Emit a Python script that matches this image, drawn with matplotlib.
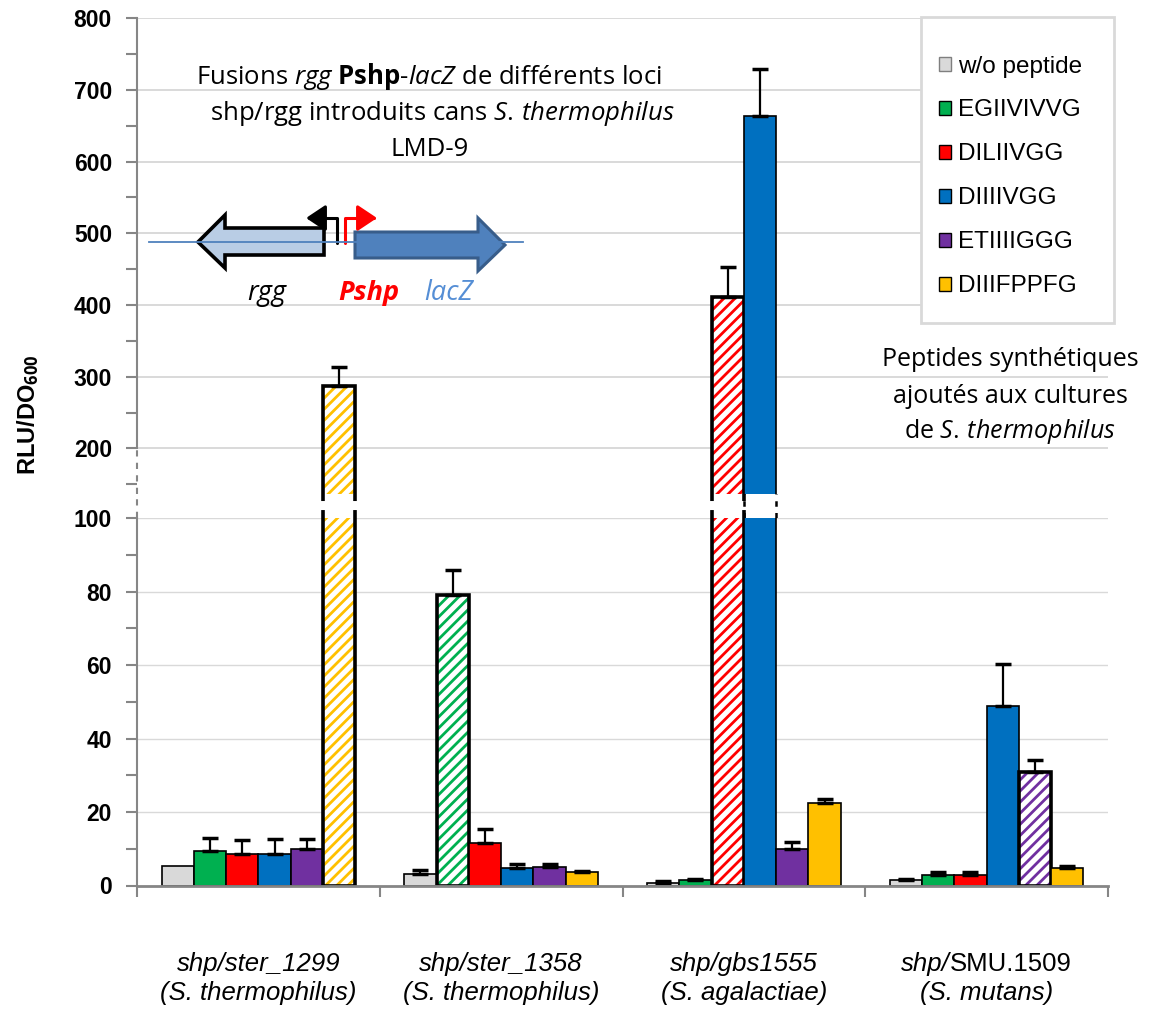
import matplotlib
matplotlib.use('Agg')
import matplotlib.pyplot as plt
import numpy as np
from matplotlib.patches import Patch, Rectangle, Polygon, FancyArrowPatch
from matplotlib.path import Path
from matplotlib.lines import Line2D
from matplotlib.offsetbox import TextArea, HPacker, AnnotationBbox

plt.rcParams['font.family'] = ['Liberation Sans', 'DejaVu Sans']
plt.rcParams['mathtext.fontset'] = 'custom'
plt.rcParams['mathtext.rm'] = 'Open Sans'
plt.rcParams['mathtext.it'] = 'Open Sans:italic'
plt.rcParams['mathtext.bf'] = 'Open Sans:bold'
plt.rcParams['hatch.linewidth'] = 2.0

CAL = 'Open Sans'      # stands in for Calibri
LBL_SIZE = 18.5
TITLE_SIZE = 18.5
TXT_SIZE = 18

# ---- data ----
loci = [[('shp/ster_1299', 'italic')],
        [('shp/ster_1358', 'italic')],
        [('shp/gbs1555', 'italic')],
        [('shp/', 'italic'), ('SMU.1509', 'normal')]]
species = ['(S. thermophilus)', '(S. thermophilus)', '(S. agalactiae)', '(S. mutans)']
peptides = ['w/o peptide', 'EGIIVIVVG', 'DILIIVGG', 'DIIIIVGG', 'ETIIIIGGG', 'DIIIFPPFG']
colors = ['#d9d9d9', '#00b050', '#ff0000', '#0070c0', '#7030a0', '#ffc000']

# one list per peptide, values per locus
wo_pep    = [5.2, 3.2, 0.8, 1.6]
egiivivvg = [9.3, 79.2, 1.6, 2.9]
diliivgg  = [8.6, 11.7, 411, 2.9]
diiiivgg  = [8.6, 4.7, 664, 49.0]
etiiiiggg = [10.0, 5.1, 10.0, 31.0]
diiifppfg = [287, 3.7, 22.4, 4.8]

wo_err        = [0, 1.0, 0.45, 0.2]
egiivivvg_err = [3.6, 6.8, 0.2, 0.9]
diliivgg_err  = [3.7, 3.7, 42, 0.9]
diiiivgg_err  = [4.1, 1.2, 65, 11.4]
etiiiiggg_err = [2.6, 0.8, 1.8, 3.1]
diiifppfg_err = [27, 0.3, 1.2, 0.6]

# cognate peptide of each locus (drawn hatched)
hatched = [5, 1, 2, 4]

series = [wo_pep, egiivivvg, diliivgg, diiiivgg, etiiiiggg, diiifppfg]
errors = [wo_err, egiivivvg_err, diliivgg_err, diiiivgg_err, etiiiiggg_err, diiifppfg_err]

# ---- layout ----
W, H = 1155, 1009
def fp(x, y):
    return (x / W, 1 - y / H)

fig = plt.figure(figsize=(W / 100, H / 100), dpi=100)
L, R = 137 / W, 1108 / W
TOP_LO = 136.3
ax_top = fig.add_axes([L, 1 - 494 / H, R - L, (494 - 18.3) / H])
ax_gap = fig.add_axes([L, 1 - 518.3 / H, R - L, (518.3 - 494) / H])
ax_bot = fig.add_axes([L, 1 - 885.5 / H, R - L, (885.5 - 518.3) / H])

x = np.arange(len(species))
w = 0.133
AXC = '#868686'

for ax in (ax_top, ax_bot):
    ax.set_xlim(-0.5, 3.5)
    ax.set_axisbelow(True)
    for i, (vals, err, col) in enumerate(zip(series, errors, colors)):
        xs = x + (i - 2.5) * w
        for j in range(len(x)):
            if hatched[j] == i:
                ax.bar(xs[j], vals[j], w, color='white', edgecolor=col, hatch='///', lw=0)
                ax.bar(xs[j], vals[j], w, fill=False, edgecolor='black', lw=2.6)
            else:
                ax.bar(xs[j], vals[j], w, color=col, edgecolor='black', lw=1.2)
            if err[j] > 0:
                ax.errorbar(xs[j], vals[j], yerr=[[0], [err[j]]], fmt='none', ecolor='black',
                            elinewidth=1.6, capsize=5.5, capthick=2.5)
    for s in ('top', 'right'):
        ax.spines[s].set_visible(False)
    ax.spines['left'].set_color(AXC)
    ax.spines['left'].set_linewidth(1.5)
    ax.tick_params(axis='y', which='both', direction='out', length=8, width=1.5,
                   color=AXC, labelsize=16.5, pad=10)

# upper panel
ax_top.set_ylim(TOP_LO, 800)
ax_top.set_yticks(range(200, 801, 100))
ax_top.set_yticks(range(150, 800, 100), minor=True)
ax_top.yaxis.grid(True, which='major', color='#d9d9d9', lw=1.4)
ax_top.spines['bottom'].set_visible(False)
ax_top.tick_params(axis='x', which='both', bottom=False, labelbottom=False)
ax_top.spines['left'].set_bounds(200, 800)
ax_top.plot([-0.5, -0.5], [TOP_LO, 200], color=AXC, lw=1.5, ls=(0, (3, 3)), clip_on=False)

# lower panel
ax_bot.set_ylim(0, 100)
ax_bot.set_yticks(range(0, 101, 20))
ax_bot.set_yticks(range(10, 100, 20), minor=True)
ax_bot.yaxis.grid(True, which='major', color='#d9d9d9', lw=1.0)
ax_bot.spines['bottom'].set_color(AXC)
ax_bot.spines['bottom'].set_linewidth(2)
ax_bot.set_xticks(np.arange(-0.5, 3.6, 1.0))
ax_bot.tick_params(axis='x', direction='out', length=8, width=1.5, color=AXC, labelbottom=False)

for ax in (ax_top, ax_bot):
    plt.setp(ax.get_yticklabels(), fontweight='bold')

# break band: dashed outlines of the bars that cross it
ax_gap.set_xlim(-0.5, 3.5)
ax_gap.set_ylim(0, 1)
ax_gap.axis('off')
ax_gap.plot([-0.5, -0.5], [0, 1], color=AXC, lw=1.5, ls=(0, (3, 3)), clip_on=False)
for i, vals in enumerate(series):
    xs = x + (i - 2.5) * w
    for j in range(len(x)):
        if vals[j] > TOP_LO:
            lw = 2.6 if hatched[j] == i else 1.8
            for xe in (xs[j] - w / 2, xs[j] + w / 2):
                ax_gap.plot([xe, xe], [0, 1], color='black', lw=lw, ls=(0, (2.2, 2.5)))

# category labels
xt = ax_bot.get_xaxis_transform()
for j in range(len(x)):
    parts = [TextArea(s, textprops=dict(style=st, size=LBL_SIZE)) for s, st in loci[j]]
    box = HPacker(children=parts, pad=0, sep=0, align='baseline')
    fig.add_artist(AnnotationBbox(box, (x[j], -0.213), xycoords=xt, frameon=False,
                                  box_alignment=(0.5, 0.5), annotation_clip=False, pad=0))
    ax_bot.text(x[j], -0.292, species[j], transform=xt, ha='center', va='center',
                style='italic', size=LBL_SIZE, clip_on=False)

fig.text(28 / W, 1 - 415 / H, r'RLU/DO$_{\mathbf{600}}$', rotation=90, fontweight='bold',
         fontsize=17, ha='center', va='center')

# annotations
fig.text(*fp(429, 77), r'Fusions $\mathit{rgg}$ $\mathbf{Pshp}$-$\mathit{lacZ}$ de différents loci',
         family=CAL, fontsize=TITLE_SIZE, ha='center', va='center')
fig.text(*fp(442, 114), r'shp/rgg introduits cans $\mathit{S.\,thermophilus}$',
         family=CAL, fontsize=TITLE_SIZE, ha='center', va='center')
fig.text(*fp(430, 150), 'LMD-9', family=CAL, fontsize=TITLE_SIZE, ha='center', va='center')

fig.text(*fp(1010, 360), 'Peptides synthétiques', family=CAL, fontsize=TXT_SIZE,
         ha='center', va='center')
fig.text(*fp(1010, 397), 'ajoutés aux cultures', family=CAL, fontsize=TXT_SIZE,
         ha='center', va='center')
fig.text(*fp(1010, 432), r'de $\mathit{S.\,thermophilus}$', family=CAL,
         fontsize=TXT_SIZE, ha='center', va='center')

# gene map
tf = fig.transFigure
fig.add_artist(Line2D([149 / W, 523 / W], [1 - 242 / H] * 2, color='#4f81bd', lw=1.3, transform=tf))
rgg_pts = [(198, 242), (225, 215), (225, 228), (324, 228), (324, 255), (225, 255), (225, 268)]
fig.add_artist(Polygon([fp(*p) for p in rgg_pts], closed=True, facecolor='#b9cde5',
                       edgecolor='black', lw=2.6, joinstyle='miter', transform=tf))
lac_pts = [(355, 232), (478, 232), (478, 218), (505, 245), (478, 271), (478, 258), (355, 258)]
fig.add_artist(Polygon([fp(*p) for p in lac_pts], closed=True, facecolor='#4f81bd',
                       edgecolor='#385d8a', lw=2.2, joinstyle='miter', transform=tf))
for pts, col in (([(337, 243), (337, 218), (306, 218)], 'black'),
                 ([(345, 243), (345, 218), (377, 218)], 'red')):
    fig.add_artist(FancyArrowPatch(path=Path([fp(*p) for p in pts]), transform=tf,
                                   arrowstyle='-|>,head_length=0.6,head_width=0.4',
                                   mutation_scale=20, color=col, lw=2.2))
GENE_SIZE = 19.5
fig.text(*fp(267, 293), 'rgg', family=CAL, style='italic', fontsize=GENE_SIZE,
         ha='center', va='center')
fig.text(*fp(369, 293), 'Pshp', family=CAL, style='italic', weight='bold', color='red',
         fontsize=GENE_SIZE, ha='center', va='center')
fig.text(*fp(449, 293), 'lacZ', family=CAL, style='italic', color='#558ed5', fontsize=GENE_SIZE,
         ha='center', va='center')

# legend
fig.add_artist(Rectangle(fp(920.7, 323), (1114 - 920.7) / W, (323 - 16.7) / H, transform=tf,
                         facecolor='white', edgecolor='#d9d9d9', lw=2, zorder=3))
handles = [Patch(facecolor=c, edgecolor='#7f7f7f' if k == 0 else 'black', lw=1)
           for k, c in enumerate(colors)]
fig.legend(handles, peptides, loc='upper left', bbox_to_anchor=fp(939, 55.5), frameon=False,
           fontsize=17.5, handlelength=0.5, handleheight=0.5, handletextpad=0.3,
           labelspacing=0.905, borderpad=0, borderaxespad=0)

fig.savefig('out.png', dpi=100)
